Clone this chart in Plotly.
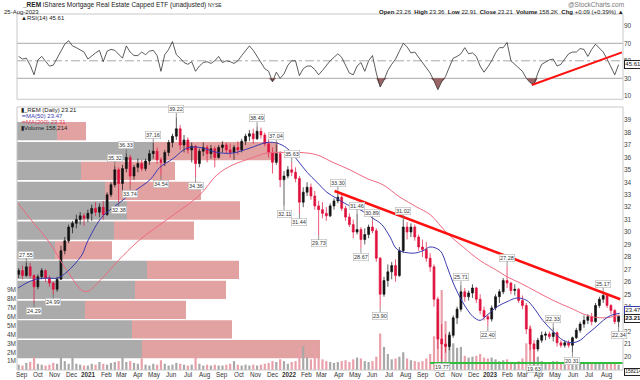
import plotly.graph_objects as go
import pandas as pd

# ---------------- data ----------------
week_dates = pd.date_range('2020-08-26', periods=157, freq='7D')

opens = [26.6,26.9,26.5,27.2,26.5,25.6,26.4,26.9,26.3,25.9,25.4,26.2,28.5,29.3,
         30.4,30.7,31.0,31.3,31.1,31.5,31.9,31.6,32.0,31.4,33.0,33.8,35.0,
         33.9,35.1,36.0,34.5,35.2,35.5,35.1,35.7,36.3,36.5,35.8,35.6,36.4,37.2,
         37.7,38.3,37.0,37.4,36.6,36.9,35.5,36.5,36.8,36.3,36.7,36.0,
         36.8,37.0,36.6,36.4,36.8,36.6,37.3,37.7,37.9,37.5,38.1,37.8,37.1,
         36.4,35.6,36.3,34.2,34.5,35.0,34.8,34.3,32.4,33.2,33.6,32.9,32.1,
         31.8,31.5,31.3,32.1,32.5,32.8,31.9,31.2,30.6,30.0,30.2,29.4,29.8,30.4,
         30.1,27.9,25.0,26.1,26.8,27.3,26.5,28.5,30.4,30.0,30.4,29.6,28.8,
         28.6,27.9,27.2,24.6,21.4,21.0,20.8,21.7,23.1,23.8,25.2,24.8,25.1,25.5,24.6,23.7,
         23.2,23.0,23.9,24.8,25.2,26.1,25.9,25.3,25.4,24.5,24.1,22.2,21.0,
         20.6,21.3,21.7,21.8,21.6,21.9,21.1,20.9,21.1,20.9,21.5,22.1,22.6,22.9,23.2,
         22.8,24.1,24.6,24.9,24.1,23.7,22.8]
highs = [27.1,27.3,27.55,27.5,26.6,26.6,27.1,27.0,26.5,26.0,26.4,28.9,29.6,30.6,
         30.9,31.4,31.6,31.5,31.8,32.2,32.4,32.3,32.5,33.2,34.0,35.32,35.2,
         35.4,36.33,36.2,35.4,35.9,35.8,35.9,36.6,37.16,36.8,36.0,36.6,37.4,37.9,
         39.22,38.6,37.8,37.6,37.2,37.0,36.7,37.2,37.0,37.0,36.9,37.0,
         37.3,37.2,37.1,37.0,37.3,37.5,37.9,38.2,38.3,38.49,38.4,38.0,37.4,
         36.8,37.04,36.5,34.9,35.3,35.63,35.2,34.5,33.6,34.0,33.9,33.3,32.5,
         32.4,32.0,32.3,32.7,33.30,33.0,32.1,31.5,31.0,31.46,30.4,30.3,30.6,30.89,
         30.3,28.0,26.4,27.4,27.6,27.8,28.8,31.02,30.8,30.7,30.6,29.8,29.4,
         29.2,28.3,27.4,24.8,22.6,21.8,22.0,23.3,24.0,25.71,25.5,25.3,25.8,25.6,25.0,24.0,
         23.4,24.1,25.0,25.4,26.3,27.28,26.0,25.8,25.5,24.9,24.3,22.5,21.3,
         21.5,22.0,22.0,22.0,22.33,22.0,21.3,21.3,21.3,21.6,22.3,22.8,23.3,23.4,
         23.5,24.3,24.8,25.17,25.0,24.2,23.8,23.36]
lows = [26.3,26.2,26.4,26.3,24.29,25.4,26.2,26.0,25.6,24.99,25.2,26.2,28.2,29.1,
        29.9,30.3,30.6,30.5,30.8,30.9,31.3,31.2,31.0,31.3,32.8,33.6,32.38,
        33.2,34.8,33.74,34.2,34.8,34.9,34.9,35.4,35.9,35.5,34.54,35.3,36.1,36.8,
        37.4,36.6,36.4,36.3,35.6,34.36,35.2,36.1,35.6,35.9,35.2,35.9,
        36.4,36.3,36.0,35.8,36.2,36.4,37.0,37.3,37.1,37.4,37.5,36.9,36.0,
        34.7,35.4,33.6,32.11,34.3,34.5,34.0,31.44,32.0,32.9,32.6,31.8,29.73,
        31.1,30.9,31.2,31.8,32.3,31.7,30.9,30.4,29.5,29.8,28.67,29.0,29.5,29.9,
        27.6,23.90,24.8,25.6,26.2,26.0,26.4,28.3,29.4,29.6,29.3,28.5,28.0,
        27.6,26.8,24.0,20.6,19.77,20.3,20.5,21.5,22.6,23.6,24.4,24.5,24.7,24.3,23.4,22.9,
        22.40,22.8,23.7,24.3,25.0,25.5,25.0,24.9,24.3,23.8,21.8,20.5,19.63,
        20.4,21.1,21.3,21.4,21.2,20.8,20.7,20.7,20.7,20.31,21.4,21.9,22.3,22.6,
        22.5,22.7,23.9,24.3,23.9,23.4,22.6,22.34]
closes = [26.9,26.5,27.2,26.5,25.6,26.4,26.9,26.3,25.9,25.4,26.2,28.5,29.3,30.4,
          30.7,31.0,31.3,31.1,31.5,31.9,31.6,32.0,31.4,33.0,33.8,35.0,33.9,
          35.1,36.0,34.5,35.2,35.5,35.1,35.7,36.3,36.5,35.8,35.6,36.4,37.2,37.7,
          38.3,37.0,37.4,36.6,36.9,35.5,36.5,36.8,36.3,36.7,36.0,36.8,
          37.0,36.6,36.4,36.8,36.6,37.3,37.7,37.9,37.5,38.1,37.8,37.1,36.4,
          35.6,36.3,34.2,34.5,35.0,34.8,34.3,32.4,33.2,33.6,32.9,32.1,31.8,
          31.5,31.3,32.1,32.5,32.8,31.9,31.2,30.6,30.0,30.2,29.4,29.8,30.4,30.1,
          27.9,25.0,26.1,26.8,27.3,26.5,28.5,30.4,30.0,30.4,29.6,28.8,28.6,
          27.9,27.2,24.6,21.4,21.0,20.8,21.7,23.1,23.8,25.2,24.8,25.1,25.5,24.6,23.7,23.2,
          23.0,23.9,24.8,25.2,26.1,25.9,25.3,25.4,24.5,24.1,22.2,21.0,20.6,
          21.3,21.7,21.8,21.6,21.9,21.1,20.9,21.1,20.9,21.5,22.1,22.6,22.9,23.2,
          22.8,24.1,24.6,24.9,24.1,23.7,22.8,23.21]

volume_m = [0.6,0.5,0.8,0.9,1.4,0.7,0.6,0.5,0.6,0.8,0.7,1.7,1.0,0.7,
            1.7,0.7,0.6,0.5,0.5,0.7,0.6,0.9,0.7,0.6,0.8,0.9,1.0,
            1.5,0.9,1.0,0.8,0.7,1.3,0.6,0.5,0.7,0.6,1.1,0.7,0.5,0.6,
            0.8,0.7,0.6,0.5,0.6,1.4,0.7,0.5,0.6,0.5,0.6,0.5,
            0.5,0.6,0.7,1.0,0.6,0.5,0.6,0.5,0.6,0.5,0.6,0.7,0.8,
            1.0,0.9,1.2,1.0,0.7,0.9,1.0,2.5,2.7,1.4,1.2,2.7,1.4,
            1.2,1.0,0.9,0.8,0.9,1.0,1.1,0.9,1.2,1.4,1.3,1.0,0.9,1.0,
            1.5,4.1,2.6,1.8,1.2,1.3,1.5,2.0,1.3,1.1,1.0,0.9,1.0,
            1.3,1.8,3.8,6.5,9.0,5.5,4.2,3.0,2.5,2.6,1.6,1.4,1.5,1.6,1.8,1.4,
            1.3,1.4,1.2,1.0,1.1,1.2,0.9,0.9,1.0,1.3,3.0,4.9,3.0,
            1.5,1.0,0.9,0.8,1.0,1.0,0.8,0.8,0.9,1.1,0.9,0.8,0.9,0.8,
            0.7,0.9,0.8,0.7,0.8,0.7,0.8,0.6]

rsi = [55,52,53,45,34,51,55,50,44,45,53,60,69,73,
       67,65,62,60,52,56,59,62,49,61,63,62,58,
       53,67,60,56,56,60,57,61,62,56,38,57,63,72,
       57,53,48,46,49,38,44,48,49,47,50,55,
       48,50,49,47,50,56,62,67,62,55,48,41,38,
       26,37,30,35,45,50,50,33,41,44,44,40,34,
       39,45,50,54,58,54,45,36,34,44,48,38,50,56,
       36,20,28,39,46,52,61,70,66,59,60,54,49,
       43,36,27,17,26,32,43,53,55,58,65,58,59,55,44,37,
       43,50,59,65,65,71,50,46,43,38,30,25,23,
       36,46,49,51,52,44,46,52,58,60,60,64,63,55,
       63,69,65,60,52,43,34,45.61]

ma50_dates = ['2020-08-25','2020-09-19','2020-10-15','2020-11-05','2020-11-22','2020-12-19',
              '2020-12-29','2021-01-21','2021-02-03','2021-02-21','2021-03-22','2021-04-22',
              '2021-05-10','2021-06-03','2021-06-28','2021-07-22','2021-08-22','2021-09-20',
              '2021-10-21','2021-11-21','2021-12-09','2021-12-27','2022-01-15','2022-02-02',
              '2022-02-20','2022-03-10','2022-03-28','2022-04-16','2022-05-09','2022-06-02',
              '2022-06-18','2022-07-03','2022-07-16','2022-08-14','2022-09-01','2022-09-14',
              '2022-10-02','2022-10-15','2022-10-26','2022-11-13','2022-12-01','2022-12-14',
              '2022-12-26','2023-01-14','2023-02-01','2023-02-19','2023-03-09','2023-03-20',
              '2023-04-07','2023-04-26','2023-05-14','2023-05-30','2023-06-14','2023-06-27',
              '2023-07-11','2023-07-26','2023-08-09','2023-08-25']
ma50_vals = [25.5,26.1,26.3,26.3,26.8,28.15,29.2,31.0,31.6,32.2,33.2,34.2,
             35.2,35.9,36.75,36.8,36.4,36.35,36.75,37.2,37.15,36.75,35.8,34.8,
             34.0,33.2,32.7,32.2,31.8,31.1,30.6,29.6,28.6,28.3,28.5,28.8,
             28.5,27.2,25.9,24.3,23.2,22.9,23.3,24.0,24.4,24.7,24.5,24.0,
             22.9,22.0,21.3,21.1,21.3,21.8,22.3,22.9,23.3,23.47]

ma200_dates = ['2020-08-25','2020-09-21','2020-10-22','2020-11-22','2020-12-25','2021-01-21',
               '2021-02-21','2021-04-04','2021-05-23','2021-07-22','2021-08-22','2021-09-20',
               '2021-10-21','2021-11-21','2021-12-20','2022-01-20','2022-02-20','2022-03-21',
               '2022-04-21','2022-05-22','2022-06-20','2022-07-21','2022-08-21','2022-09-14',
               '2022-10-15','2022-11-13','2022-12-14','2023-01-14','2023-02-01','2023-02-25',
               '2023-03-27','2023-04-26','2023-05-27','2023-06-27','2023-07-26','2023-08-25']
ma200_vals = [32.3,30.8,29.1,26.9,25.2,26.1,27.6,29.4,31.0,33.0,34.6,35.4,
              35.9,36.35,36.4,36.4,36.2,35.6,35.0,34.3,33.8,32.8,32.0,31.4,
              29.9,28.8,27.7,26.9,26.4,25.9,25.2,24.5,23.9,23.3,23.1,23.31]

# volume-by-price zones (price centre, up volume, down volume, relative units)
vbp_prices = [38.11,36.50,34.92,33.31,31.73,30.12,28.53,26.96,25.35,23.75,22.18,20.59]
vbp_up = [40,136,64,88,110,97,38,130,118,68,115,125]
vbp_down = [29,125,94,96,113,80,57,92,91,101,100,178]

# high / low labels
label_weeks = [2,4,9,25,26,28,29,35,37,41,46,62,67,69,71,73,78,83,88,89,92,94,100,
               110,115,122,127,134,139,144,152,156]
label_prices = [27.55,24.29,24.99,35.32,32.38,36.33,33.74,37.16,34.54,39.22,34.36,38.49,
                37.04,32.11,35.63,31.44,29.73,33.30,31.46,28.67,30.89,23.90,31.02,
                19.77,25.71,22.40,27.28,19.63,22.33,20.31,25.17,22.34]
label_side = ['h','l','l','h','l','h','l','h','l','h','l','h','h','l','h','l','l','h','h',
              'l','h','l','h','l','h','l','h','l','h','l','h','l']

# drawn lines
trend_dates = ['2022-03-24', '2023-08-26']
trend_vals = [33.3, 24.6]
support_dates = ['2022-09-14', '2023-08-31']
support_vals = [19.47, 19.47]
rsi_trend_dates = ['2023-03-18', '2023-08-29']
rsi_trend_vals = [22.3, 59.7]

month_ticks = pd.date_range('2020-09-01', '2023-08-01', freq='MS')
month_text = ['Sep','Oct','Nov','Dec','<b>2021</b>','Feb','Mar','Apr','May','Jun','Jul','Aug',
              'Sep','Oct','Nov','Dec','<b>2022</b>','Feb','Mar','Apr','May','Jun','Jul','Aug',
              'Sep','Oct','Nov','Dec','<b>2023</b>','Feb','Mar','Apr','May','Jun','Jul','Aug']
price_ticks = list(range(20, 40))
vol_ticks = list(range(1, 10))
rsi_ticks = [10, 30, 50, 70, 90]

# ---------------- figure ----------------
W, H = 640, 380
L, R = 17 / W, 623 / W
def py(px):
    return 1 - px / H
main_dom = [py(370), py(107)]
rsi_dom = [py(99.3), py(14)]
xr = ['2020-08-23', '2023-08-31']
price_range = [18.91, 40.05]
FONT = 'Liberation Sans, Arial, sans-serif'
RED = '#e0103c'

fig = go.Figure()

# volume by price (behind)
fig.add_trace(go.Bar(orientation='h', y=vbp_prices, x=vbp_up, width=1.47,
                     marker=dict(color='#ababab', line=dict(width=0)),
                     xaxis='x', yaxis='y', hoverinfo='skip'))
fig.add_trace(go.Bar(orientation='h', y=vbp_prices, x=vbp_down, base=vbp_up, width=1.47,
                     marker=dict(color='#e3a2a2', line=dict(width=0)),
                     xaxis='x', yaxis='y', hoverinfo='skip'))

# volume bars
vol_colors = ['#a8a8a8' if c >= o else '#eaa0aa' for o, c in zip(opens, closes)]
fig.add_trace(go.Bar(x=week_dates, y=volume_m, width=4 * 86400000,
                     marker=dict(color=vol_colors, line=dict(width=0)),
                     xaxis='x2', yaxis='y2', hoverinfo='skip'))

# moving averages
fig.add_trace(go.Scatter(x=ma200_dates, y=ma200_vals, mode='lines',
                         line=dict(color='#ee6a80', width=1, shape='spline'),
                         xaxis='x2', yaxis='y3', hoverinfo='skip'))
fig.add_trace(go.Scatter(x=ma50_dates, y=ma50_vals, mode='lines',
                         line=dict(color='#3a3ab0', width=1, shape='spline'),
                         xaxis='x2', yaxis='y3', hoverinfo='skip'))

# candles
fig.add_trace(go.Candlestick(x=week_dates, open=opens, high=highs, low=lows, close=closes,
                             increasing=dict(line=dict(color='#111111', width=0.7), fillcolor='#111111'),
                             decreasing=dict(line=dict(color=RED, width=0.7), fillcolor=RED),
                             whiskerwidth=0, xaxis='x2', yaxis='y3', hoverinfo='skip'))

# drawn trend / support lines
fig.add_trace(go.Scatter(x=trend_dates, y=trend_vals, mode='lines',
                         line=dict(color='#ff1010', width=2.5), xaxis='x2', yaxis='y3'))
fig.add_trace(go.Scatter(x=support_dates, y=support_vals, mode='lines',
                         line=dict(color='#2fbf3a', width=2), xaxis='x2', yaxis='y3'))

# RSI panel
rsi_floor = [30] * len(rsi)
rsi_clip = [min(v, 30) for v in rsi]
fig.add_trace(go.Scatter(x=week_dates, y=rsi_floor, mode='lines', line=dict(width=0),
                         xaxis='x3', yaxis='y4', hoverinfo='skip'))
fig.add_trace(go.Scatter(x=week_dates, y=rsi_clip, mode='lines', line=dict(width=0),
                         fill='tonexty', fillcolor='rgba(120,50,50,0.75)',
                         xaxis='x3', yaxis='y4', hoverinfo='skip'))
fig.add_trace(go.Scatter(x=week_dates, y=rsi, mode='lines',
                         line=dict(color='#333333', width=0.8),
                         xaxis='x3', yaxis='y4', hoverinfo='skip'))
fig.add_trace(go.Scatter(x=rsi_trend_dates, y=rsi_trend_vals, mode='lines',
                         line=dict(color='#ff1010', width=2), xaxis='x3', yaxis='y4'))

# ---------------- annotations ----------------
ann = []
for wk, p, s in zip(label_weeks, label_prices, label_side):
    ann.append(dict(x=week_dates[wk], y=p, xref='x2', yref='y3', text=f'{p:.2f}',
                    showarrow=True, arrowhead=0, arrowwidth=0.7, arrowcolor='#666',
                    ax=0, ay=-8 if s == 'h' else 8,
                    font=dict(size=5.5, color='#333', family=FONT),
                    bgcolor='white', bordercolor='#b5b5b5', borderwidth=0.6, borderpad=0.4))

# month labels along the bottom of the price panel
for d, t in zip(month_ticks, month_text):
    ann.append(dict(x=d, y=py(374.5), xref='x2', yref='paper', text=t, showarrow=False,
                    xanchor='center', yanchor='middle',
                    font=dict(size=6.3, color='#333', family=FONT)))

def txt(x, y, t, size=6.5, color='#222', anchor='left'):
    ann.append(dict(x=x / W, y=py(y), xref='paper', yref='paper', text=t, showarrow=False,
                    xanchor=anchor, yanchor='middle', font=dict(size=size, color=color, family=FONT)))

txt(20, 5, '<b>_REM</b> iShares Mortgage Real Estate Capped ETF (unadjusted) '
           '<span style="font-size:5px">NYSE</span>', size=6.5)
txt(2, 11.5, '25-Aug-2023', size=6)
txt(626, 4, '@StockCharts.com', size=6.5, color='#777', anchor='right')
txt(626, 11.5, '<b>Open</b> 23.26  <b>High</b> 23.36  <b>Low</b> 22.91  <b>Close</b> 23.21  '
               '<b>Volume</b> 158.2K  <b>Chg</b> +0.09 (+0.39%) ▲', size=6, anchor='right')
txt(19, 18, '▲RSI(14) 45.61', size=6)
txt(19, 110, '▮_REM (Daily) 23.21', size=6)
txt(19, 116, '<span style="color:#3a3ab0">━</span>MA(50) 23.47', size=6, color='#3a3ab0')
txt(19, 122, '<span style="color:#e0405a">━</span>MA(200) 23.31', size=6, color='#e0405a')
txt(19, 128, '▮Volume 158,214', size=6)

def box(y, t, border, yref='paper', yshift=0, size=6):
    ann.append(dict(x=R + 0.001, y=y, xref='paper', yref=yref, text=t, showarrow=False,
                    xanchor='left', yanchor='middle', yshift=yshift,
                    font=dict(size=size, color='#111', family=FONT),
                    bgcolor='white', bordercolor=border, borderwidth=1, borderpad=0.3))

box(ma50_vals[-1], f'{ma50_vals[-1]:.2f}', '#3a3ab0', yref='y3', yshift=3)
box(closes[-1], f'<b>{closes[-1]:.2f}</b>', '#222', yref='y3', yshift=-2)
box(rsi[-1], f'{rsi[-1]:.2f}', '#222', yref='y4')
box(py(372), '158214', '#222', size=4.8)

# ---------------- shapes ----------------
shapes = []
for lvl, dash in [(70, 'solid'), (30, 'solid'), (50, 'dashdot')]:
    shapes.append(dict(type='line', xref='paper', yref='y4', x0=L, x1=R, y0=lvl, y1=lvl,
                       line=dict(color='#a8a8a8', width=1, dash=dash), layer='below'))
for dom in (rsi_dom, main_dom):
    shapes.append(dict(type='rect', xref='paper', yref='paper', x0=L, x1=R, y0=dom[0], y1=dom[1],
                       line=dict(color='#c8c8c8', width=1), layer='above'))

tickfont = dict(size=6.5, color='#444', family=FONT)
fig.update_layout(
    width=W, height=H, margin=dict(l=0, r=0, t=0, b=0),
    paper_bgcolor='white', plot_bgcolor='white', showlegend=False, barmode='overlay',
    font=dict(family=FONT, size=7, color='#333'),
    xaxis=dict(domain=[L, R], range=[0, 606], visible=False, anchor='y', fixedrange=True),
    yaxis=dict(domain=main_dom, range=price_range, side='right', anchor='x',
               tickvals=price_ticks, tickfont=tickfont, showgrid=False, zeroline=False,
               ticks='', showline=False),
    xaxis2=dict(domain=[L, R], overlaying='x', anchor='y', type='date', range=xr,
                showticklabels=False, showgrid=False, zeroline=False, ticks='', showline=False,
                rangeslider=dict(visible=False)),
    yaxis2=dict(overlaying='y', anchor='x', side='left', range=[0, 29.6], tickvals=vol_ticks,
                ticktext=[f'{v}M' for v in vol_ticks], tickfont=tickfont, showgrid=False,
                zeroline=False, ticks=''),
    yaxis3=dict(overlaying='y', anchor='x', range=price_range, visible=False),
    xaxis3=dict(domain=[L, R], anchor='y4', type='date', range=xr, showticklabels=False,
                showgrid=False, zeroline=False, ticks=''),
    yaxis4=dict(domain=rsi_dom, anchor='x3', side='right', range=[6, 103.5], tickvals=rsi_ticks,
                tickfont=tickfont, showgrid=False, zeroline=False, ticks=''),
    annotations=ann, shapes=shapes,
)

fig.write_html('out.html', config={'displayModeBar': False},
               post_script="document.body.style.margin='0';document.body.style.overflow='hidden';")
